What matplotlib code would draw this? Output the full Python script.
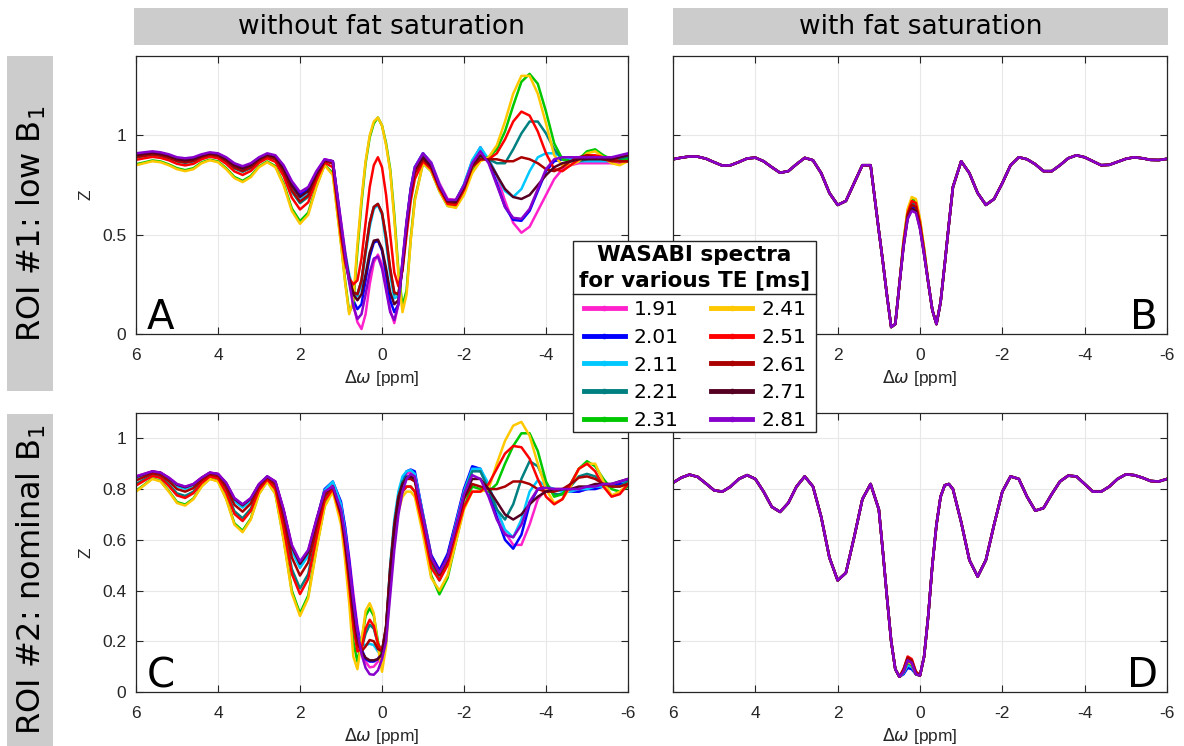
import matplotlib.pyplot as plt
from matplotlib.lines import Line2D
from matplotlib.patches import Rectangle

plt.rcParams['font.family'] = 'Liberation Sans'
plt.rcParams['axes.unicode_minus'] = False

W, H = 1184, 746

te_labels = ['1.91', '2.01', '2.11', '2.21', '2.31', '2.41', '2.51', '2.61', '2.71', '2.81']
te_colors = ['#ff22cc', '#0000ff', '#00c8ff', '#008080', '#00c800',
             '#ffc800', '#ff0000', '#aa0000', '#550022', '#8800cc']

# frequency offsets [ppm]
xs = [6.0, 5.8, 5.6, 5.4, 5.2, 5.0, 4.8, 4.6, 4.4, 4.2, 4.0, 3.8, 3.6, 3.4, 3.2, 3.0, 2.8, 2.6, 2.4, 2.2, 2.0,
      1.8, 1.6, 1.4, 1.2, 1.0,
      0.9, 0.8, 0.7, 0.6, 0.5, 0.4, 0.3, 0.2, 0.1, 0.0, -0.1, -0.2, -0.3, -0.4, -0.5, -0.6, -0.7, -0.8,
      -1.0, -1.2, -1.4, -1.6, -1.8, -2.0, -2.2, -2.4, -2.6, -2.8, -3.0, -3.2, -3.4, -3.6, -3.8, -4.0, -4.2,
      -4.4, -4.6, -4.8, -5.0, -5.2, -5.4, -5.6, -5.8, -6.0]

# ROI 1 (low B1), no fat saturation
a_191 = [0.905, 0.91, 0.915, 0.91, 0.90, 0.885, 0.88, 0.885, 0.90, 0.91, 0.905, 0.885, 0.855, 0.84, 0.855, 0.885, 0.905, 0.895, 0.845, 0.765, 0.71, 0.735, 0.815, 0.88,
         0.87, 0.57, 0.42, 0.28, 0.15, 0.06, 0.025, 0.10, 0.25, 0.36, 0.40, 0.35, 0.24, 0.12, 0.055, 0.15, 0.36, 0.56, 0.72, 0.83,
         0.91, 0.865, 0.76, 0.68, 0.675, 0.75, 0.86,
         0.92, 0.88, 0.80, 0.67, 0.56, 0.51, 0.54, 0.62, 0.70, 0.78, 0.83, 0.85, 0.86, 0.86, 0.86, 0.86, 0.86, 0.86, 0.87]
a_201 = [0.905, 0.91, 0.915, 0.91, 0.90, 0.885, 0.878, 0.884, 0.90, 0.91, 0.905, 0.884, 0.853, 0.837, 0.853, 0.885, 0.905, 0.894, 0.84, 0.755, 0.70, 0.726, 0.812, 0.877,
         0.87, 0.55, 0.40, 0.27, 0.17, 0.125, 0.15, 0.27, 0.39, 0.46, 0.47, 0.42, 0.30, 0.17, 0.11, 0.15, 0.35, 0.56, 0.73, 0.84,
         0.91, 0.86, 0.75, 0.67, 0.67, 0.75, 0.87,
         0.94, 0.87, 0.76, 0.64, 0.575, 0.57, 0.62, 0.72, 0.82, 0.87, 0.88, 0.88, 0.88, 0.88, 0.88, 0.88, 0.88, 0.88, 0.89]
a_211 = [0.895, 0.90, 0.907, 0.902, 0.89, 0.875, 0.869, 0.875, 0.894, 0.905, 0.899, 0.875, 0.841, 0.825, 0.843, 0.877, 0.899, 0.885, 0.825, 0.733, 0.675, 0.705, 0.80, 0.872,
         0.87, 0.55, 0.41, 0.30, 0.22, 0.19, 0.25, 0.40, 0.54, 0.63, 0.65, 0.60, 0.46, 0.30, 0.18, 0.19, 0.36, 0.56, 0.73, 0.84,
         0.91, 0.86, 0.75, 0.67, 0.67, 0.755, 0.875,
         0.94, 0.88, 0.80, 0.72, 0.69, 0.73, 0.82, 0.89, 0.91, 0.91, 0.89, 0.88, 0.87, 0.87, 0.87, 0.87, 0.87, 0.88, 0.88]
a_221 = [0.889, 0.896, 0.902, 0.897, 0.886, 0.869, 0.862, 0.869, 0.889, 0.901, 0.894, 0.869, 0.834, 0.817, 0.835, 0.872, 0.894, 0.879, 0.815, 0.717, 0.659, 0.691, 0.792, 0.87,
         0.86, 0.53, 0.39, 0.28, 0.21, 0.20, 0.27, 0.42, 0.56, 0.64, 0.655, 0.61, 0.48, 0.32, 0.20, 0.20, 0.35, 0.55, 0.72, 0.83,
         0.90, 0.85, 0.745, 0.665, 0.66, 0.74, 0.855,
         0.89, 0.88, 0.86, 0.86, 0.93, 1.01, 1.07, 1.07, 1.01, 0.93, 0.88, 0.87, 0.87, 0.88, 0.89, 0.88, 0.88, 0.88, 0.89]
a_231 = [0.855, 0.864, 0.874, 0.869, 0.854, 0.835, 0.825, 0.835, 0.864, 0.878, 0.869, 0.835, 0.791, 0.771, 0.796, 0.844, 0.869, 0.845, 0.758, 0.632, 0.568, 0.611, 0.746, 0.852,
         0.81, 0.46, 0.27, 0.11, 0.15, 0.42, 0.66, 0.86, 0.99, 1.06, 1.09, 1.05, 0.96, 0.83, 0.60, 0.32, 0.14, 0.22, 0.48, 0.68,
         0.86, 0.82, 0.72, 0.645, 0.64, 0.71, 0.82,
         0.88, 0.89, 0.93, 1.02, 1.15, 1.27, 1.31, 1.26, 1.12, 0.96, 0.88, 0.87, 0.88, 0.92, 0.93, 0.90, 0.88, 0.87, 0.88]
a_241 = [0.85, 0.86, 0.87, 0.865, 0.85, 0.83, 0.82, 0.83, 0.86, 0.875, 0.865, 0.83, 0.785, 0.765, 0.79, 0.84, 0.865, 0.84, 0.75, 0.62, 0.555, 0.60, 0.74, 0.85,
         0.80, 0.45, 0.26, 0.10, 0.17, 0.45, 0.68, 0.87, 1.00, 1.07, 1.09, 1.05, 0.95, 0.82, 0.58, 0.30, 0.11, 0.20, 0.47, 0.67,
         0.86, 0.82, 0.72, 0.645, 0.635, 0.70, 0.81,
         0.87, 0.89, 0.95, 1.07, 1.21, 1.30, 1.30, 1.21, 1.06, 0.90, 0.85, 0.85, 0.87, 0.91, 0.92, 0.89, 0.86, 0.85, 0.87]
a_251 = [0.877, 0.885, 0.892, 0.887, 0.875, 0.857, 0.849, 0.857, 0.88, 0.893, 0.885, 0.857, 0.819, 0.801, 0.821, 0.862, 0.885, 0.867, 0.795, 0.687, 0.627, 0.663, 0.776, 0.863,
         0.84, 0.49, 0.36, 0.28, 0.25, 0.27, 0.38, 0.56, 0.74, 0.85, 0.89, 0.84, 0.70, 0.50, 0.31, 0.24, 0.32, 0.50, 0.67, 0.78,
         0.87, 0.83, 0.73, 0.655, 0.65, 0.725, 0.84,
         0.88, 0.88, 0.91, 0.98, 1.07, 1.12, 1.10, 1.02, 0.91, 0.83, 0.82, 0.85, 0.88, 0.90, 0.90, 0.89, 0.88, 0.87, 0.87]
a_261 = [0.892, 0.898, 0.905, 0.90, 0.888, 0.872, 0.865, 0.872, 0.892, 0.903, 0.897, 0.872, 0.838, 0.821, 0.839, 0.875, 0.896, 0.882, 0.82, 0.725, 0.667, 0.698, 0.796, 0.871,
         0.86, 0.52, 0.38, 0.27, 0.21, 0.20, 0.27, 0.42, 0.56, 0.64, 0.655, 0.61, 0.49, 0.33, 0.21, 0.20, 0.33, 0.53, 0.70, 0.81,
         0.88, 0.84, 0.74, 0.665, 0.66, 0.735, 0.845,
         0.88, 0.88, 0.88, 0.87, 0.87, 0.89, 0.88, 0.86, 0.83, 0.82, 0.84, 0.87, 0.89, 0.90, 0.89, 0.88, 0.87, 0.87, 0.87]
a_271 = [0.90, 0.907, 0.912, 0.907, 0.897, 0.88, 0.875, 0.88, 0.898, 0.909, 0.903, 0.88, 0.849, 0.833, 0.85, 0.882, 0.903, 0.891, 0.835, 0.748, 0.69, 0.72, 0.808, 0.875,
         0.87, 0.54, 0.40, 0.28, 0.20, 0.17, 0.20, 0.30, 0.41, 0.47, 0.475, 0.43, 0.33, 0.21, 0.15, 0.17, 0.34, 0.55, 0.72, 0.83,
         0.89, 0.845, 0.745, 0.67, 0.665, 0.74, 0.85,
         0.90, 0.87, 0.80, 0.73, 0.69, 0.68, 0.70, 0.75, 0.80, 0.84, 0.86, 0.87, 0.88, 0.88, 0.88, 0.88, 0.88, 0.89, 0.90]
a_281 = [0.91, 0.915, 0.92, 0.915, 0.905, 0.89, 0.885, 0.89, 0.905, 0.915, 0.91, 0.89, 0.86, 0.845, 0.86, 0.89, 0.91, 0.90, 0.85, 0.77, 0.715, 0.74, 0.82, 0.88,
         0.87, 0.56, 0.40, 0.26, 0.14, 0.075, 0.10, 0.20, 0.31, 0.38, 0.39, 0.33, 0.22, 0.11, 0.07, 0.15, 0.37, 0.57, 0.73, 0.84,
         0.91, 0.86, 0.75, 0.675, 0.675, 0.75, 0.86,
         0.92, 0.86, 0.75, 0.64, 0.585, 0.58, 0.63, 0.73, 0.83, 0.88, 0.89, 0.89, 0.89, 0.89, 0.89, 0.89, 0.89, 0.90, 0.91]

# ROI 1, with fat saturation: shared flanks, TE-dependent centre (0.4 .. -0.1 ppm)
b_left = [0.88, 0.888, 0.894, 0.893, 0.883, 0.865, 0.848, 0.85, 0.866, 0.884, 0.888, 0.87, 0.84, 0.812, 0.82, 0.855,
          0.887, 0.875, 0.81, 0.71, 0.65, 0.67, 0.76, 0.85, 0.85, 0.52, 0.36, 0.19, 0.035, 0.05, 0.25]
b_right = [0.26, 0.12, 0.05, 0.16, 0.35, 0.55, 0.74,
           0.87, 0.81, 0.71, 0.65, 0.68, 0.76, 0.85, 0.89, 0.88, 0.855, 0.82, 0.82, 0.85, 0.885, 0.90, 0.89, 0.87,
           0.85, 0.852, 0.867, 0.882, 0.89, 0.885, 0.877, 0.876, 0.882]
b_mid_191 = [0.44, 0.59, 0.635, 0.625, 0.54, 0.40]
b_mid_201 = [0.45, 0.59, 0.64, 0.63, 0.54, 0.41]
b_mid_211 = [0.46, 0.61, 0.665, 0.655, 0.56, 0.42]
b_mid_221 = [0.45, 0.60, 0.66, 0.65, 0.55, 0.41]
b_mid_231 = [0.47, 0.62, 0.68, 0.67, 0.57, 0.43]
b_mid_241 = [0.47, 0.63, 0.69, 0.68, 0.58, 0.43]
b_mid_251 = [0.46, 0.61, 0.67, 0.66, 0.56, 0.42]
b_mid_261 = [0.45, 0.60, 0.65, 0.64, 0.55, 0.41]
b_mid_271 = [0.44, 0.58, 0.63, 0.62, 0.53, 0.40]
b_mid_281 = [0.44, 0.58, 0.62, 0.61, 0.53, 0.40]

# ROI 2 (nominal B1), no fat saturation
c_191 = [0.85, 0.86, 0.87, 0.865, 0.845, 0.82, 0.808, 0.82, 0.845, 0.865, 0.86, 0.823, 0.762, 0.738, 0.763, 0.819, 0.85, 0.83, 0.718, 0.577, 0.51, 0.556, 0.678, 0.79,
         0.82, 0.74, 0.65, 0.53, 0.39, 0.26, 0.17, 0.12, 0.097, 0.10, 0.12, 0.16, 0.25, 0.44, 0.62, 0.75, 0.82, 0.86, 0.87, 0.86,
         0.70, 0.54, 0.48, 0.54, 0.67, 0.80, 0.88,
         0.87, 0.81, 0.72, 0.63, 0.58, 0.58, 0.66, 0.76, 0.80, 0.80, 0.80, 0.79, 0.79, 0.80, 0.81, 0.81, 0.82, 0.82, 0.83]
c_201 = [0.846, 0.857, 0.868, 0.863, 0.842, 0.816, 0.805, 0.816, 0.843, 0.864, 0.858, 0.821, 0.759, 0.733, 0.76, 0.818, 0.849, 0.827, 0.713, 0.569, 0.502, 0.549, 0.673, 0.80,
         0.83, 0.75, 0.65, 0.52, 0.37, 0.25, 0.17, 0.13, 0.12, 0.12, 0.13, 0.16, 0.24, 0.44, 0.63, 0.76, 0.84, 0.87, 0.877, 0.87,
         0.70, 0.54, 0.48, 0.545, 0.67, 0.80, 0.89,
         0.88, 0.80, 0.69, 0.60, 0.565, 0.62, 0.74, 0.80, 0.81, 0.80, 0.79, 0.79, 0.79, 0.80, 0.80, 0.81, 0.81, 0.82, 0.83]
c_211 = [0.843, 0.855, 0.866, 0.861, 0.838, 0.811, 0.801, 0.813, 0.841, 0.862, 0.856, 0.817, 0.752, 0.727, 0.755, 0.815, 0.848, 0.824, 0.706, 0.557, 0.489, 0.537, 0.666, 0.795,
         0.83, 0.74, 0.63, 0.49, 0.34, 0.23, 0.19, 0.185, 0.19, 0.185, 0.16, 0.14, 0.25, 0.50, 0.68, 0.79, 0.85, 0.87, 0.875, 0.86,
         0.70, 0.53, 0.46, 0.53, 0.66, 0.79, 0.88,
         0.88, 0.82, 0.72, 0.64, 0.61, 0.68, 0.79, 0.835, 0.81, 0.80, 0.79, 0.79, 0.80, 0.80, 0.81, 0.81, 0.82, 0.83, 0.83]
c_221 = [0.82, 0.838, 0.855, 0.848, 0.818, 0.783, 0.773, 0.79, 0.828, 0.853, 0.845, 0.793, 0.713, 0.685, 0.723, 0.80, 0.84, 0.805, 0.66, 0.485, 0.408, 0.465, 0.62, 0.76,
         0.81, 0.70, 0.58, 0.44, 0.28, 0.18, 0.17, 0.23, 0.265, 0.25, 0.19, 0.16, 0.26, 0.49, 0.66, 0.77, 0.83, 0.85, 0.85, 0.84,
         0.68, 0.51, 0.44, 0.51, 0.64, 0.78, 0.87,
         0.87, 0.80, 0.72, 0.68, 0.74, 0.84, 0.91, 0.89, 0.82, 0.78, 0.78, 0.81, 0.85, 0.86, 0.85, 0.82, 0.81, 0.81, 0.83]
c_231 = [0.793, 0.817, 0.842, 0.832, 0.793, 0.749, 0.739, 0.763, 0.812, 0.841, 0.832, 0.763, 0.665, 0.636, 0.684, 0.782, 0.831, 0.782, 0.606, 0.40, 0.31, 0.38, 0.566, 0.733,
         0.80, 0.68, 0.55, 0.38, 0.20, 0.12, 0.20, 0.30, 0.33, 0.30, 0.20, 0.13, 0.20, 0.44, 0.62, 0.73, 0.79, 0.81, 0.81, 0.79,
         0.64, 0.46, 0.385, 0.45, 0.59, 0.73, 0.81,
         0.80, 0.79, 0.82, 0.90, 0.97, 1.02, 1.02, 0.95, 0.83, 0.77, 0.78, 0.82, 0.88, 0.91, 0.89, 0.84, 0.80, 0.79, 0.81]
c_241 = [0.79, 0.815, 0.84, 0.83, 0.79, 0.745, 0.735, 0.76, 0.81, 0.84, 0.83, 0.76, 0.66, 0.63, 0.68, 0.78, 0.83, 0.78, 0.60, 0.39, 0.30, 0.37, 0.56, 0.73,
         0.79, 0.66, 0.52, 0.35, 0.14, 0.09, 0.20, 0.32, 0.35, 0.31, 0.18, 0.08, 0.18, 0.43, 0.60, 0.71, 0.77, 0.79, 0.79, 0.77,
         0.62, 0.45, 0.40, 0.46, 0.59, 0.72, 0.79,
         0.79, 0.80, 0.90, 0.99, 1.05, 1.065, 1.01, 0.90, 0.80, 0.745, 0.76, 0.81, 0.88, 0.90, 0.90, 0.83, 0.775, 0.79, 0.82]
c_251 = [0.814, 0.833, 0.852, 0.844, 0.812, 0.775, 0.765, 0.784, 0.824, 0.85, 0.842, 0.786, 0.702, 0.674, 0.714, 0.796, 0.838, 0.80, 0.648, 0.466, 0.386, 0.446, 0.608, 0.754,
         0.80, 0.69, 0.57, 0.42, 0.26, 0.16, 0.17, 0.25, 0.285, 0.26, 0.19, 0.16, 0.25, 0.47, 0.63, 0.74, 0.79, 0.81, 0.81, 0.79,
         0.65, 0.49, 0.44, 0.50, 0.62, 0.73, 0.79,
         0.79, 0.82, 0.88, 0.94, 0.97, 0.965, 0.92, 0.84, 0.77, 0.74, 0.76, 0.82, 0.88, 0.90, 0.87, 0.81, 0.77, 0.78, 0.82]
c_261 = [0.834, 0.848, 0.862, 0.856, 0.831, 0.80, 0.79, 0.804, 0.836, 0.858, 0.852, 0.808, 0.738, 0.711, 0.743, 0.81, 0.845, 0.817, 0.689, 0.531, 0.459, 0.511, 0.649, 0.774,
         0.81, 0.70, 0.59, 0.45, 0.30, 0.19, 0.16, 0.18, 0.205, 0.20, 0.17, 0.16, 0.26, 0.49, 0.66, 0.77, 0.82, 0.84, 0.84, 0.83,
         0.68, 0.52, 0.46, 0.52, 0.64, 0.76, 0.82,
         0.81, 0.80, 0.80, 0.81, 0.83, 0.83, 0.82, 0.80, 0.79, 0.79, 0.80, 0.82, 0.845, 0.85, 0.84, 0.82, 0.81, 0.81, 0.82]
c_271 = [0.848, 0.858, 0.869, 0.864, 0.843, 0.817, 0.807, 0.818, 0.844, 0.864, 0.859, 0.822, 0.761, 0.736, 0.762, 0.818, 0.849, 0.828, 0.715, 0.572, 0.506, 0.552, 0.675, 0.788,
         0.81, 0.71, 0.60, 0.47, 0.33, 0.22, 0.16, 0.135, 0.125, 0.125, 0.13, 0.15, 0.25, 0.47, 0.64, 0.76, 0.82, 0.845, 0.85, 0.84,
         0.69, 0.53, 0.47, 0.53, 0.65, 0.77, 0.84,
         0.84, 0.80, 0.75, 0.70, 0.68, 0.70, 0.74, 0.77, 0.79, 0.80, 0.80, 0.80, 0.81, 0.81, 0.82, 0.82, 0.82, 0.83, 0.84]
c_281 = [0.85, 0.86, 0.87, 0.865, 0.845, 0.82, 0.81, 0.82, 0.845, 0.865, 0.86, 0.825, 0.765, 0.74, 0.765, 0.82, 0.85, 0.83, 0.72, 0.58, 0.515, 0.56, 0.68, 0.79,
         0.81, 0.72, 0.62, 0.50, 0.36, 0.24, 0.15, 0.095, 0.07, 0.068, 0.085, 0.13, 0.20, 0.38, 0.56, 0.70, 0.79, 0.84, 0.86, 0.85,
         0.69, 0.53, 0.47, 0.53, 0.65, 0.78, 0.855,
         0.84, 0.77, 0.68, 0.62, 0.61, 0.66, 0.75, 0.80, 0.805, 0.80, 0.80, 0.80, 0.80, 0.81, 0.81, 0.82, 0.82, 0.83, 0.84]

# ROI 2, with fat saturation: shared flanks, TE-dependent centre bump (0.4 .. 0.1 ppm)
d_left = [0.825, 0.845, 0.857, 0.848, 0.822, 0.795, 0.79, 0.81, 0.84, 0.855, 0.84, 0.79, 0.73, 0.71, 0.745, 0.81,
          0.85, 0.81, 0.69, 0.53, 0.44, 0.47, 0.61, 0.76, 0.82, 0.72, 0.55, 0.37, 0.20, 0.09, 0.06]
d_right = [0.065, 0.14, 0.30, 0.50, 0.66, 0.77, 0.815, 0.82, 0.80,
           0.67, 0.52, 0.455, 0.52, 0.66, 0.79, 0.85, 0.84, 0.77, 0.715, 0.725, 0.78, 0.83, 0.853, 0.85, 0.82,
           0.79, 0.79, 0.81, 0.84, 0.858, 0.855, 0.845, 0.832, 0.83, 0.84]
d_mid_191 = [0.075, 0.11, 0.10, 0.07]
d_mid_201 = [0.07, 0.095, 0.09, 0.07]
d_mid_211 = [0.075, 0.105, 0.10, 0.07]
d_mid_221 = [0.08, 0.115, 0.105, 0.07]
d_mid_231 = [0.08, 0.12, 0.11, 0.07]
d_mid_241 = [0.08, 0.12, 0.11, 0.07]
d_mid_251 = [0.09, 0.14, 0.13, 0.08]
d_mid_261 = [0.09, 0.135, 0.125, 0.08]
d_mid_271 = [0.08, 0.125, 0.115, 0.07]
d_mid_281 = [0.08, 0.125, 0.115, 0.07]

roi1_nofs = [a_191, a_201, a_211, a_221, a_231, a_241, a_251, a_261, a_271, a_281]
roi2_nofs = [c_191, c_201, c_211, c_221, c_231, c_241, c_251, c_261, c_271, c_281]
roi1_fs = [b_left + m + b_right for m in (b_mid_191, b_mid_201, b_mid_211, b_mid_221, b_mid_231,
                                          b_mid_241, b_mid_251, b_mid_261, b_mid_271, b_mid_281)]
roi2_fs = [d_left + m + d_right for m in (d_mid_191, d_mid_201, d_mid_211, d_mid_221, d_mid_231,
                                          d_mid_241, d_mid_251, d_mid_261, d_mid_271, d_mid_281)]

fig = plt.figure(figsize=(W / 100, H / 100), dpi=100)


def px_axes(x0, y0, x1, y1):
    return fig.add_axes([x0 / W, 1 - y1 / H, (x1 - x0) / W, (y1 - y0) / H])


def style(ax, ymax, yticks, ylabels, letter, right):
    ax.set_xlim(6, -6)
    ax.set_ylim(0, ymax)
    ax.set_xticks([6, 4, 2, 0, -2, -4, -6])
    ax.set_xticklabels(['6', '4', '2', '0', '-2', '-4', '-6'])
    ax.set_yticks(yticks)
    if ylabels:
        ax.set_yticklabels(ylabels)
        ax.set_ylabel('Z', fontsize=12.5, color='#262626', labelpad=6)
    else:
        ax.set_yticklabels([])
    ax.tick_params(direction='in', top=True, right=True, length=5, width=0.8,
                   labelsize=12.5, color='#262626', labelcolor='#262626')
    ax.tick_params(axis='x', pad=10)
    ax.tick_params(axis='y', pad=7)
    ax.grid(True, color='#e8e8e8', lw=0.8)
    ax.set_axisbelow(True)
    for s in ax.spines.values():
        s.set_color('#262626')
        s.set_linewidth(0.9)
    ax.set_xlabel(r'$\Delta\omega$ [ppm]', fontsize=12.5, color='#262626', labelpad=4)
    yb = 5.0 / ax.bbox.height
    if right:
        ax.text(0.982, yb, letter, transform=ax.transAxes, ha='right', va='baseline',
                fontsize=29, family='DejaVu Sans')
    else:
        ax.text(0.022, yb, letter, transform=ax.transAxes, ha='left', va='baseline',
                fontsize=29, family='DejaVu Sans')


axA = px_axes(136, 56, 628, 334)
axB = px_axes(673, 56, 1167, 334)
axC = px_axes(136, 413, 628, 692)
axD = px_axes(673, 413, 1167, 692)

for ax, data in ((axA, roi1_nofs), (axB, roi1_fs), (axC, roi2_nofs), (axD, roi2_fs)):
    for y, c in zip(data, te_colors):
        ax.plot(xs, y, color=c, lw=1.8)

style(axA, 1.4, [0, 0.5, 1], ['0', '0.5', '1'], 'A', False)
style(axB, 1.4, [0, 0.5, 1], None, 'B', True)
style(axC, 1.1, [0, 0.2, 0.4, 0.6, 0.8, 1.0], ['0', '0.2', '0.4', '0.6', '0.8', '1'], 'C', False)
style(axD, 1.1, [0, 0.2, 0.4, 0.6, 0.8, 1.0], None, 'D', True)

# column headers
for x0, x1, txt in ((134, 628, 'without fat saturation'), (673, 1168, 'with fat saturation')):
    fig.add_artist(Rectangle((x0 / W, 1 - 45 / H), (x1 - x0) / W, 37 / H,
                             transform=fig.transFigure, facecolor='#cccccc', edgecolor='none'))
    fig.text((x0 + x1) / 2 / W, 1 - 27 / H, txt, ha='center', va='center',
             fontsize=19, family='DejaVu Sans')

# row headers
for y0, y1, txt in ((56, 391, 'ROI #1: low B$_1$'), (414, 746, 'ROI #2: nominal B$_1$')):
    fig.add_artist(Rectangle((7 / W, 1 - y1 / H), 46 / W, (y1 - y0) / H,
                             transform=fig.transFigure, facecolor='#cccccc', edgecolor='none'))
    fig.text(31 / W, 1 - (y0 + y1) / 2 / H, txt, ha='center', va='center', rotation=90,
             fontsize=23, family='DejaVu Sans')

# legend box with two-line bold title
lx0, lx1, ly0, ly1, lsep = 573, 816, 241, 432, 294
fig.add_artist(Rectangle((lx0 / W, 1 - ly1 / H), (lx1 - lx0) / W, (ly1 - ly0) / H,
                         transform=fig.transFigure, facecolor='white', edgecolor='#262626',
                         lw=1.0, zorder=5))
fig.add_artist(Line2D([lx0 / W, lx1 / W], [1 - lsep / H] * 2, transform=fig.transFigure,
                      color='#262626', lw=1.0, zorder=6))
fig.text((lx0 + lx1) / 2 / W, 1 - 255 / H, 'WASABI spectra', ha='center', va='center',
         fontsize=15.5, fontweight='bold', family='DejaVu Sans', zorder=7)
fig.text((lx0 + lx1) / 2 / W, 1 - 280 / H, 'for various TE [ms]', ha='center', va='center',
         fontsize=15.5, fontweight='bold', family='DejaVu Sans', zorder=7)

handles = [Line2D([0], [0], color=c, lw=3.5, marker='.', markersize=6) for c in te_colors]
leg = fig.legend(handles, te_labels, ncol=2, loc='upper left',
                 bbox_to_anchor=((lx0 + 5) / W, 1 - 294 / H), frameon=False, numpoints=1,
                 prop={'family': 'DejaVu Sans', 'size': 14.6}, borderaxespad=0,
                 borderpad=0.3, labelspacing=0.43, handlelength=2.0, handletextpad=0.45,
                 columnspacing=1.6)
leg.set_zorder(7)

fig.savefig('out.png', dpi=100)
